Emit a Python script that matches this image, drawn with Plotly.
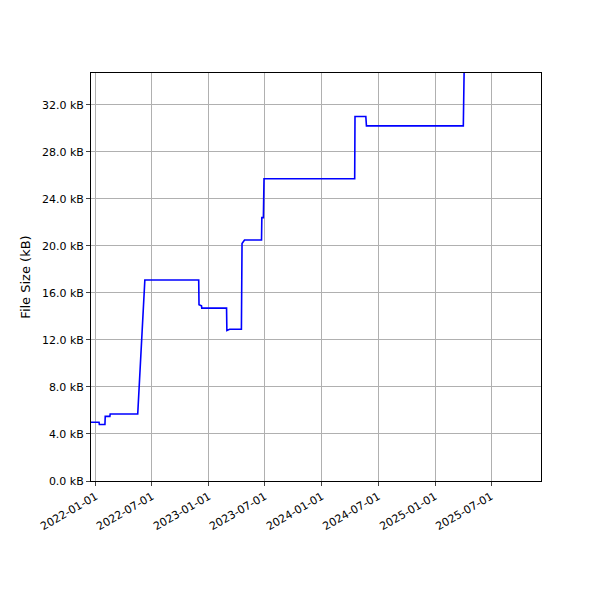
import plotly.graph_objects as go

# file size history
dates = ["2021-12-16", "2022-01-11", "2022-01-12", "2022-01-30", "2022-01-31", "2022-02-15", "2022-02-16",
         "2022-05-16", "2022-06-08", "2022-11-29", "2022-11-30", "2022-12-08", "2022-12-09",
         "2023-02-27", "2023-02-28", "2023-03-09", "2023-04-16", "2023-04-18", "2023-04-26",
         "2023-06-20", "2023-06-21", "2023-06-26", "2023-06-28", "2024-04-16", "2024-04-17",
         "2024-05-22", "2024-05-24", "2025-04-02", "2025-04-04", "2025-04-05"]
size_kb = [5.0, 5.0, 4.8, 4.8, 5.5, 5.5, 5.7,
           5.7, 17.1, 17.1, 15.0, 14.9, 14.7,
           14.7, 12.8, 12.9, 12.9, 20.2, 20.5,
           20.5, 22.4, 22.4, 25.7, 25.7, 31.0,
           31.0, 30.2, 30.2, 33.8, 35.5]

ytick_vals = [0, 4, 8, 12, 16, 20, 24, 28, 32]
ytick_text = [f"{v:.1f} kB" for v in ytick_vals]
xtick_vals = ["2022-01-01", "2022-07-01", "2023-01-01", "2023-07-01",
              "2024-01-01", "2024-07-01", "2025-01-01", "2025-07-01"]

fig = go.Figure(go.Scatter(x=dates, y=size_kb, mode="lines", line=dict(color="blue", width=1.6)))

axis_style = dict(showgrid=True, gridcolor="#b0b0b0", showline=True, linecolor="black",
                  mirror=True, ticks="outside", ticklen=4, zeroline=False)
fig.update_layout(
    width=600, height=600, plot_bgcolor="white", paper_bgcolor="white",
    margin=dict(l=83, r=67, t=65, b=127),
    font=dict(family="DejaVu Sans", size=11, color="black"),
    showlegend=False,
    xaxis=dict(range=["2021-12-16", "2025-12-09"], tickvals=xtick_vals, ticktext=xtick_vals,
               tickangle=-30, **axis_style),
    yaxis=dict(range=[0, 34.7], tickvals=ytick_vals, ticktext=ytick_text,
               title=dict(text="File Size (kB)", standoff=8), **axis_style),
)
fig.write_html("out.html")
